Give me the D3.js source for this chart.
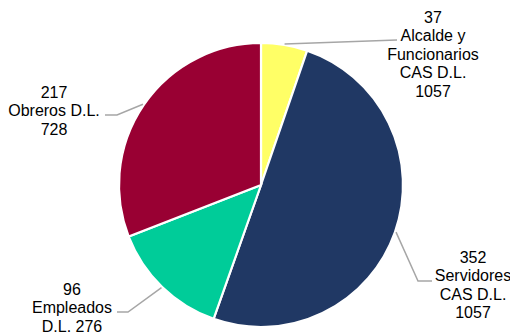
<!DOCTYPE html>
<html>
<head>
<meta charset="utf-8">
<script src="https://cdn.jsdelivr.net/npm/d3@7"></script>
<style>
  html, body { margin: 0; padding: 0; background: #fff; }
  svg { display: block; }
  text { font-family: "Liberation Sans", Arial, sans-serif; }
</style>
</head>
<body>
<svg id="chart" width="510" height="333"></svg>
<script>
// ---- data ----
const categories = ["Alcalde y Funcionarios CAS D.L. 1057", "Servidores CAS D.L. 1057", "Empleados D.L. 276", "Obreros D.L. 728"];
const values = [37, 352, 96, 217];
const labelLines = [
  ["37", "Alcalde y", "Funcionarios", "CAS D.L.", "1057"],
  ["352", "Servidores", "CAS D.L.", "1057"],
  ["96", "Empleados", "D.L. 276"],
  ["217", "Obreros D.L.", "728"]
];
const colors = ["#FFFF66", "#203864", "#00CC99", "#990033"];

// ---- layout (positions only) ----
const W = 510, H = 333;
const cx = 261, cy = 185, R = 142;
const lineH = 18.5;
const fontSize = 16;
const labelLayout = [
  { x: 433, y: 17, elbow: [397, 40], end: [397, 40] },
  { x: 473, y: 257, elbow: [418, 281], end: [432, 281] },
  { x: 72,  y: 289, elbow: [128, 312], end: [117, 312] },
  { x: 54,  y: 92,  elbow: [117, 115], end: [105, 115] }
];

const svg = d3.select("#chart");
const data = categories.map((c, i) => ({ cat: c, value: values[i], i }));

const pie = d3.pie().value(d => d.value).sort(null);
const arcs = pie(data);
const arc = d3.arc().innerRadius(0).outerRadius(R);

const g = svg.append("g").attr("transform", `translate(${cx},${cy})`);
g.selectAll("path.slice")
  .data(arcs)
  .join("path")
  .attr("class", "slice")
  .attr("d", arc)
  .attr("fill", d => colors[d.data.i])
  .attr("stroke", "#fff")
  .attr("stroke-width", 2.2)
  .attr("stroke-linejoin", "miter");

// leader lines
svg.selectAll("polyline.leader")
  .data(arcs)
  .join("polyline")
  .attr("class", "leader")
  .attr("fill", "none")
  .attr("stroke", "#A6A6A6")
  .attr("stroke-width", 1.5)
  .attr("points", d => {
    const mid = (d.startAngle + d.endAngle) / 2;
    const sx = cx + (R + 1) * Math.sin(mid);
    const sy = cy - (R + 1) * Math.cos(mid);
    const L = labelLayout[d.data.i];
    return [[sx, sy], L.elbow, L.end].map(p => p.join(",")).join(" ");
  });

// labels
const lbl = svg.selectAll("text.lbl")
  .data(arcs)
  .join("text")
  .attr("class", "lbl")
  .attr("text-anchor", "middle")
  .attr("font-size", fontSize)
  .attr("fill", "#000");
lbl.each(function(d) {
  const L = labelLayout[d.data.i];
  d3.select(this).selectAll("tspan")
    .data(labelLines[d.data.i])
    .join("tspan")
    .attr("x", L.x)
    .attr("y", (t, k) => L.y + k * lineH)
    .attr("dy", "0.36em")
    .text(t => t);
});
</script>
</body>
</html>
